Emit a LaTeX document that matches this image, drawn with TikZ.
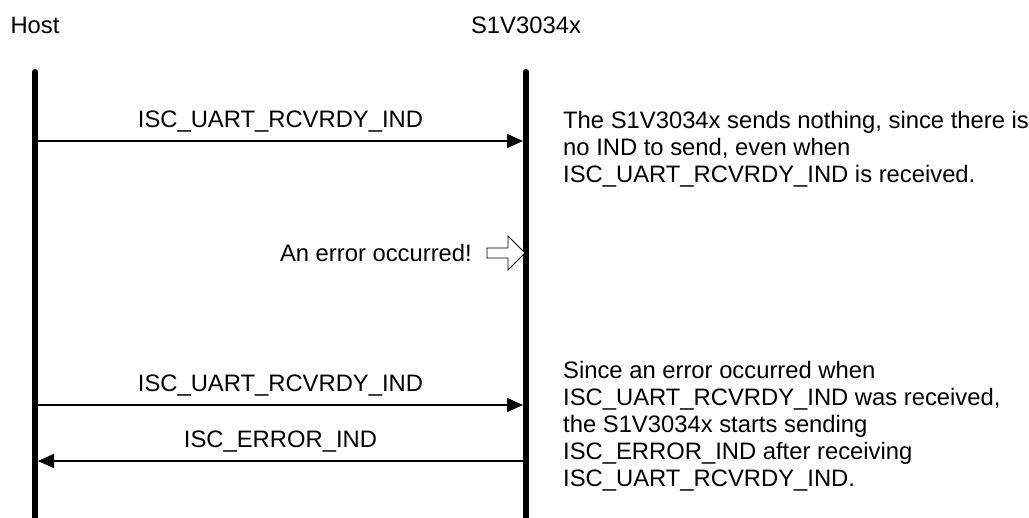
\documentclass[tikz,border=0pt]{standalone}
\usepackage{fontspec}
\setmainfont{Liberation Sans}
\usetikzlibrary{arrows.meta,positioning}
\definecolor{inkblack}{RGB}{0,0,0}
\tikzset{
  lifeline/.style={line width=6pt,draw=inkblack,line cap=round},
  msg/.style={-{Triangle[length=16pt,width=14pt]},line width=1.4pt,draw=inkblack},
  hollowarrow/.style={draw=inkblack,line width=0.9pt,fill=white,line join=miter},
  lab/.style={font=\fontsize{23.8}{27}\selectfont,inner sep=0pt,text=inkblack},
  note/.style={lab,align=left,anchor=north west}
}

\begin{document}
\begin{tikzpicture}[x=1pt,y=-1pt]
  \useasboundingbox (0,0) rectangle (1029,518);
  % lifelines
  \node[lab] (host) at (35,25) {Host};
  \node[lab] (dev) at (526,25) {S1V3034x};
  \coordinate (hostTop) at (35,72);
  \coordinate (hostBot) at (35,530);
  \coordinate (devTop) at (526,72);
  \coordinate (devBot) at (526,530);
  \draw[lifeline] (hostTop) -- (hostBot);
  \draw[lifeline] (devTop) -- (devBot);
  % messages
  \coordinate (h1) at (38,141);
  \coordinate (d1) at (523,141);
  \coordinate (h2) at (38,405);
  \coordinate (d2) at (523,405);
  \coordinate (h3) at (38,461);
  \coordinate (d3) at (523,461);
  \draw[msg] (h1) -- (d1) node[lab,midway,anchor=base,yshift=13pt] (m1) {ISC\_UART\_RCVRDY\_IND};
  \draw[msg] (h2) -- (d2) node[lab,midway,anchor=base,yshift=13pt] (m2) {ISC\_UART\_RCVRDY\_IND};
  \draw[msg] (d3) -- (h3) node[lab,midway,anchor=base,yshift=13pt] (m3) {ISC\_ERROR\_IND};
  % error marker
  \coordinate (errtail) at (487,253);
  \draw[hollowarrow] (487,248) -- (508,248) -- (508,236) -- (525,253)
    -- (508,270) -- (508,258) -- (487,258) -- cycle;
  \node[lab,anchor=east,left=15pt of errtail] (err) {An error occurred!};
  % notes
  \node[note] (n1) at (563,111) {The S1V3034x sends nothing, since there is\\
    no IND to send, even when\\
    ISC\_UART\_RCVRDY\_IND is received.};
  \node[note] (n2) at (563,361) {Since an error occurred when\\
    ISC\_UART\_RCVRDY\_IND was received,\\
    the S1V3034x starts sending\\
    ISC\_ERROR\_IND after receiving\\
    ISC\_UART\_RCVRDY\_IND.};
\end{tikzpicture}
\end{document}
